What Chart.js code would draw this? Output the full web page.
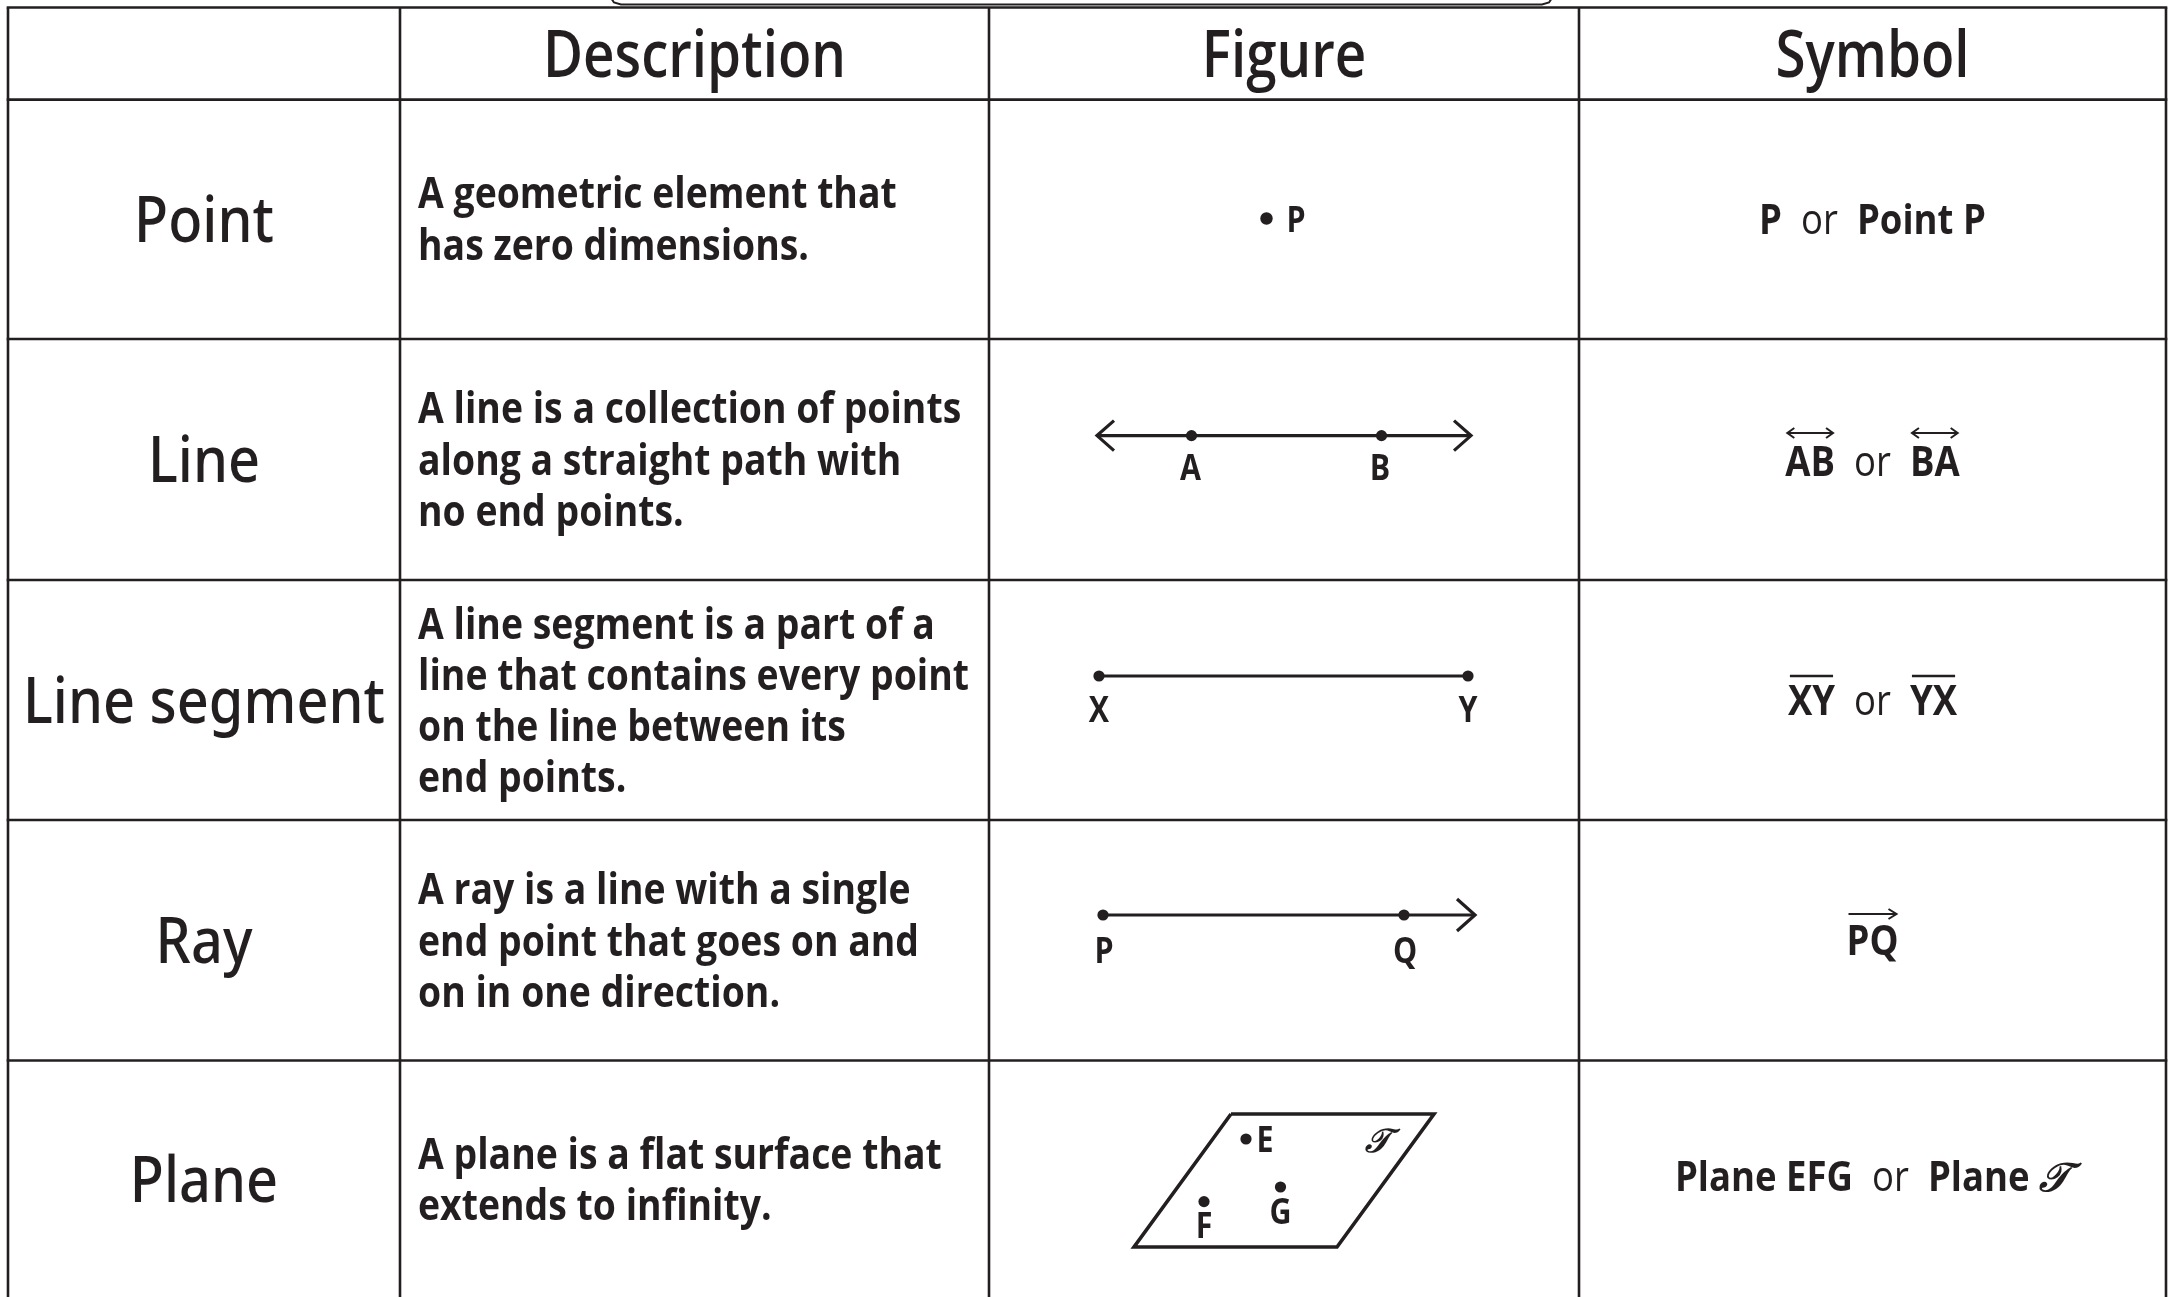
<!DOCTYPE html>
<html>
<head>
<meta charset="utf-8">
<script src="https://cdn.jsdelivr.net/npm/chart.js@4.4.1/dist/chart.umd.min.js"></script>
<style>
  html, body { margin: 0; padding: 0; background: #ffffff; }
  #wrap { width: 2168px; height: 1297px; overflow: hidden; }
</style>
</head>
<body>
<div id="wrap"><canvas id="c" width="2168" height="1297"></canvas></div>
<script>
// ---------------- DATA ----------------
const columnHeaders = ['', 'Description', 'Figure', 'Symbol'];
const rowNames = ['Point', 'Line', 'Line segment', 'Ray', 'Plane'];
const descriptions = [
  ['A geometric element that', 'has zero dimensions.'],
  ['A line is a collection of points', 'along a straight path with', 'no end points.'],
  ['A line segment is a part of a', 'line that contains every point', 'on the line between its', 'end points.'],
  ['A ray is a line with a single', 'end point that goes on and', 'on in one direction.'],
  ['A plane is a flat surface that', 'extends to infinity.']
];
const figureLabels = [['P'], ['A', 'B'], ['X', 'Y'], ['P', 'Q'], ['E', 'F', 'G', '\u{1D4AF}']];
const symbolParts = [
  ['P', 'or', 'Point P'],
  ['AB', 'or', 'BA'],
  ['XY', 'or', 'YX'],
  ['PQ'],
  ['Plane EFG', 'or', 'Plane \u{1D4AF}']
];
const symbolMarks = ['none', 'line', 'segment', 'ray', 'none'];

// ---------------- LAYOUT ----------------
const W = 2168, H = 1297;
const INK = '#231f20';
const COLS = [8, 400, 989, 1579, 2166];
const ROWS = [7.5, 99.6, 339, 580, 820, 1060.5];
const HEADER_CY = 53.5;
const ROW_CY = [218.5, 459, 700, 940, 1179];
const SYM_CY = [218.5, 461, 700, 940, 1176];
const DESC_X = 418, DESC_LH = 51.3;

// figure shapes in local coordinates around the figure cell centre
const FIG_GEOM = [
  { lines: [], dots: [[-17.5, 0]], labels: [[12, 0]] },
  { lines: [[[-187, -23.4], [187, -23.4]],
            [[-170, -38.4], [-187, -23.4], [-170, -8.4]],
            [[170, -38.4], [187, -23.4], [170, -8.4]]],
    dots: [[-92.5, -23.4], [97.5, -23.4]], labels: [[-93.5, 8], [96, 8]] },
  { lines: [[[-185, -24], [184, -24]]],
    dots: [[-185, -24], [184, -24]], labels: [[-185, 8.5], [184, 8.5]] },
  { lines: [[[-181, -25], [191, -25]], [[173, -41], [191, -25], [173, -9]]],
    dots: [[-181, -25], [120, -25]], labels: [[-180, 10], [121, 10]] },
  { lines: [[[-53, -65], [150, -65], [53, 68], [-150, 68], [-53, -65]]],
    dots: [[-38, -40], [-80, 22.6], [-3.5, 8]],
    labels: [[-19, -40], [-80, 46], [-3.5, 32], [93, -40]] }
];

const F_HEAD = '600 66px "Open Sans"';
const F_ROW = '500 64px "Noto Sans"';
const F_DESC = '700 43px "Open Sans"';
const F_SYM_B = '700 42px "Open Sans"';
const F_SYM_R = '400 42px "Open Sans"';
const F_FIG = '700 35px "Open Sans"';
const SCRIPT_T = '\u{1D4AF}';
const F_SCRIPT = 'italic 700 40px "DejaVu Serif", "Liberation Serif", serif';
const F_SCRIPT_FIG = 'italic 700 33px "DejaVu Serif", "Liberation Serif", serif';

// ---------------- DATASETS ----------------
const datasets = [];
function addLine(points, width) {
  datasets.push({
    type: 'scatter', showLine: true,
    data: points.map(p => ({ x: p[0], y: p[1] })),
    borderColor: INK, borderWidth: width, pointRadius: 0, pointHoverRadius: 0,
    fill: false, tension: 0, borderJoinStyle: 'miter', borderCapStyle: 'butt', clip: false
  });
}
// grid
COLS.forEach(x => addLine([[x, ROWS[0]], [x, H + 10]], 2.6));
ROWS.forEach(y => addLine([[COLS[0] - 1.3, y], [COLS[4] + 1.3, y]], 2.6));
// tab outline above the header
addLine([[611, -2], [614, 2.5], [621, 4.4], [1542, 4.4], [1549, 2.5], [1552, -2]], 2);

// figures
const FIG_CX = (COLS[2] + COLS[3]) / 2;
FIG_GEOM.forEach((g, r) => {
  const cy = ROW_CY[r];
  g.lines.forEach(l => addLine(l.map(p => [FIG_CX + p[0], cy + p[1]]), r === 4 ? 3.6 : 3.2));
  datasets.push({
    type: 'scatter',
    data: g.dots.map(p => ({ x: FIG_CX + p[0], y: cy + p[1] })),
    pointRadius: r === 0 ? 6.2 : 5.6, pointHoverRadius: 0, pointStyle: 'circle',
    backgroundColor: INK, borderWidth: 0, clip: false
  });
});

// ---------------- TEXT PLUGIN ----------------
function measure(ctx, font, s) { ctx.font = font; return ctx.measureText(s).width; }
function capH(ctx, font) { ctx.font = font; return ctx.measureText('H').actualBoundingBoxAscent; }
function txt(ctx, s, x, cy, font, k, align) {
  ctx.save();
  ctx.font = font;
  const c = ctx.measureText('H').actualBoundingBoxAscent;
  ctx.translate(x, cy + c / 2);
  ctx.scale(k, 1);
  ctx.textAlign = align || 'center';
  ctx.textBaseline = 'alphabetic';
  ctx.fillStyle = INK;
  ctx.fillText(s, 0, 0);
  ctx.restore();
}
function strokePath(ctx, pts, w) {
  ctx.save();
  ctx.strokeStyle = INK; ctx.lineWidth = w; ctx.lineJoin = 'miter'; ctx.lineCap = 'butt';
  ctx.beginPath();
  pts.forEach((p, i) => i ? ctx.lineTo(p[0], p[1]) : ctx.moveTo(p[0], p[1]));
  ctx.stroke();
  ctx.restore();
}

const tablePlugin = {
  id: 'tableText',
  afterDatasetsDraw(chart) {
    const ctx = chart.ctx;
    const xs = chart.scales.x, ys = chart.scales.y;
    const X = v => xs.getPixelForValue(v), Y = v => ys.getPixelForValue(v);
    const kHead = 303 / measure(ctx, F_HEAD, 'Description');
    const kRow = 362 / measure(ctx, F_ROW, 'Line segment');
    const kDesc = 551 / measure(ctx, F_DESC, 'line that contains every point');
    const kSym = kDesc;

    // headers
    columnHeaders.forEach((h, i) => {
      if (!h) return;
      txt(ctx, h, X((COLS[i] + COLS[i + 1]) / 2), Y(HEADER_CY), F_HEAD, kHead);
    });
    // row names
    rowNames.forEach((n, r) => txt(ctx, n, X((COLS[0] + COLS[1]) / 2), Y(ROW_CY[r]), F_ROW, kRow));
    // descriptions
    descriptions.forEach((lines, r) => {
      lines.forEach((l, i) => {
        const cy = ROW_CY[r] + (i - (lines.length - 1) / 2) * DESC_LH;
        txt(ctx, l, X(DESC_X), Y(cy), F_DESC, kDesc, 'left');
      });
    });
    // figure labels
    FIG_GEOM.forEach((g, r) => {
      figureLabels[r].forEach((lab, i) => {
        const p = g.labels[i];
        const f = lab === SCRIPT_T ? F_SCRIPT_FIG : F_FIG;
        txt(ctx, lab, X(FIG_CX + p[0]), Y(ROW_CY[r] + p[1]), f, lab === SCRIPT_T ? 1 : kDesc);
      });
    });
    // symbols
    const SYM_CX = (COLS[3] + COLS[4]) / 2;
    const GAP = 19;
    symbolParts.forEach((parts, r) => {
      const cy = SYM_CY[r];
      const runs = parts.map(p => {
        if (p === 'or') return [{ s: 'or', f: F_SYM_R, k: kSym }];
        if (p.indexOf(SCRIPT_T) >= 0) {
          const pre = p.replace(SCRIPT_T, '');
          return [{ s: pre, f: F_SYM_B, k: kSym }, { s: SCRIPT_T, f: F_SCRIPT, k: 1 }];
        }
        return [{ s: p, f: F_SYM_B, k: kSym }];
      });
      const widths = runs.map(rs => rs.reduce((a, u) => a + measure(ctx, u.f, u.s) * u.k, 0));
      const total = widths.reduce((a, b) => a + b, 0) + GAP * (parts.length - 1);
      let x = SYM_CX - total / 2;
      parts.forEach((p, i) => {
        let xx = x;
        runs[i].forEach(u => {
          txt(ctx, u.s, X(xx), Y(cy), u.f, u.k, 'left');
          xx += measure(ctx, u.f, u.s) * u.k;
        });
        const mark = symbolMarks[r];
        if (p !== 'or' && mark !== 'none') {
          const top = cy - capH(ctx, F_SYM_B) / 2;
          const x0 = X(x + 2), x1 = X(x + widths[i] - 2);
          if (mark === 'line') {
            const y = Y(top - 13);
            strokePath(ctx, [[x0, y], [x1, y]], 2);
            strokePath(ctx, [[x0 + 7, y - 5], [x0, y], [x0 + 7, y + 5]], 2);
            strokePath(ctx, [[x1 - 7, y - 5], [x1, y], [x1 - 7, y + 5]], 2);
          } else if (mark === 'segment') {
            const y = Y(top - 9);
            strokePath(ctx, [[x0, y], [x1, y]], 2.6);
          } else if (mark === 'ray') {
            const y = Y(top - 11);
            strokePath(ctx, [[x0, y], [x1, y]], 2);
            strokePath(ctx, [[x1 - 8, y - 5], [x1, y], [x1 - 8, y + 5]], 2);
          }
        }
        x += widths[i] + GAP;
      });
    });
  }
};

new Chart(document.getElementById('c'), {
  type: 'scatter',
  data: { datasets },
  options: {
    responsive: false, devicePixelRatio: 1, animation: false,
    layout: { padding: 0, autoPadding: false },
    plugins: { legend: { display: false }, tooltip: { enabled: false }, title: { display: false } },
    events: [],
    scales: {
      x: { type: 'linear', min: 0, max: W, display: false },
      y: { type: 'linear', min: 0, max: H, reverse: true, display: false }
    }
  },
  plugins: [tablePlugin]
});
</script>
</body>
</html>
